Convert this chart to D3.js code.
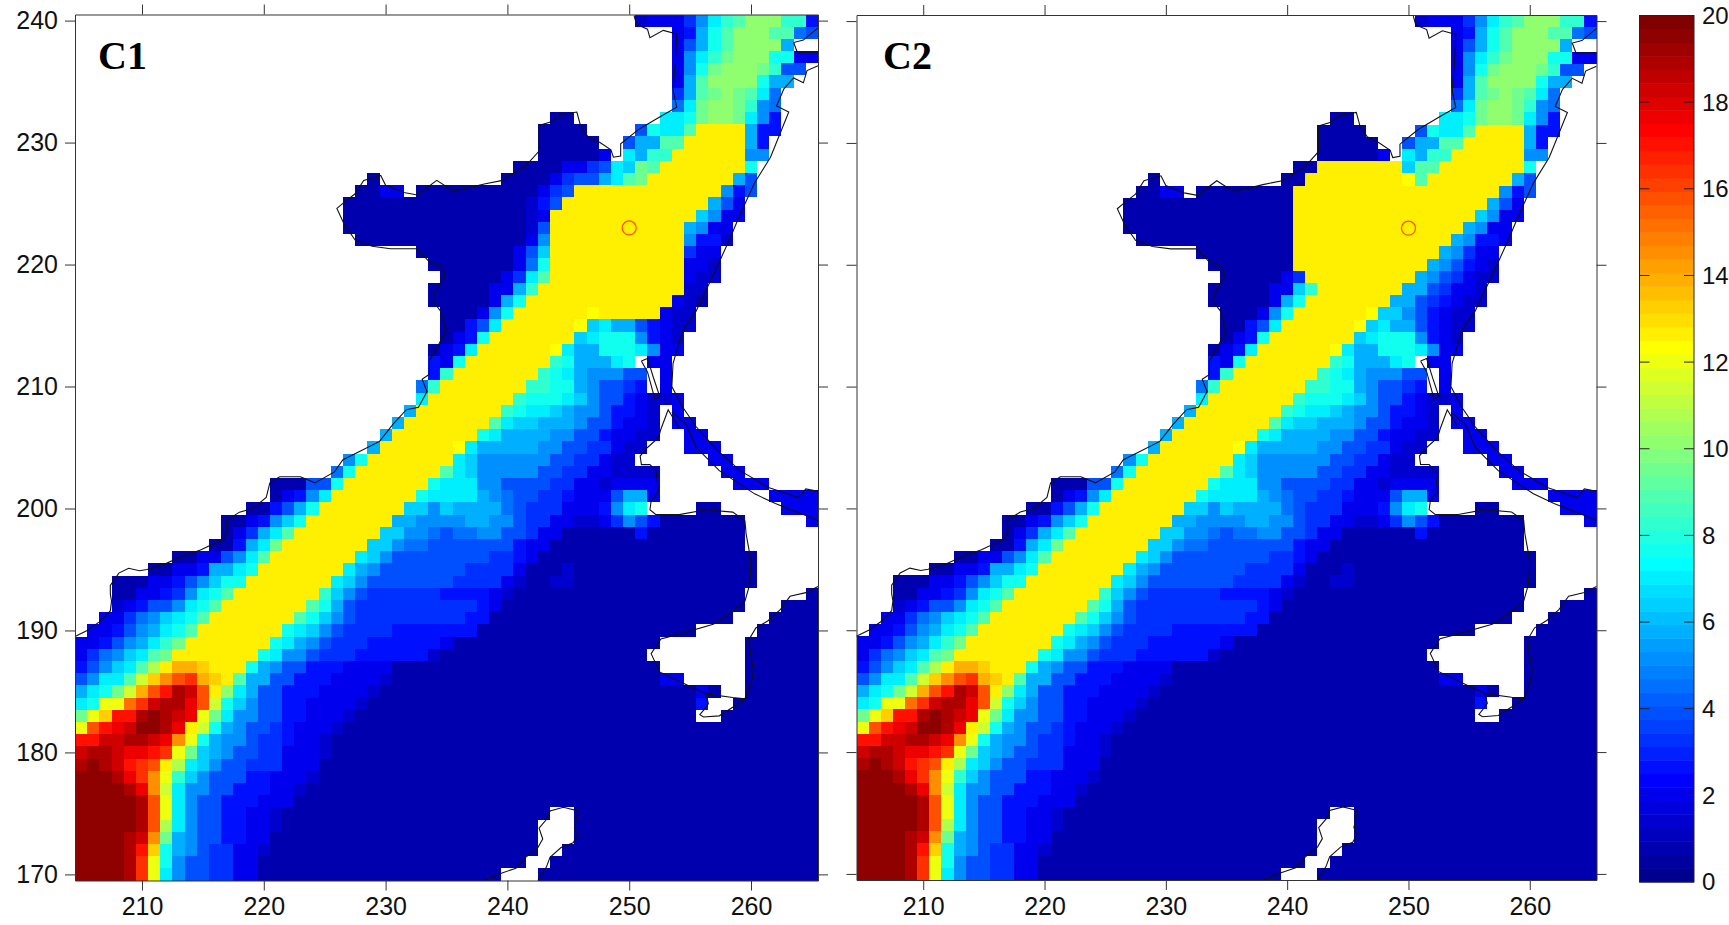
<!DOCTYPE html>
<html>
<head>
<meta charset="utf-8">
<script src="https://cdn.jsdelivr.net/npm/d3@7"></script>
<style>
    body { margin: 0; background: white; }
    text { font-family: "Liberation Sans", Arial, sans-serif; fill: #111; }
    .axis path, .axis line { stroke: #333; stroke-width: 1; }
    .axis text { font-size: 25px; font-family: "Liberation Sans", Arial, sans-serif; fill: #111; }
    .coast { fill: none; stroke: #111; stroke-width: 1.1; }
</style>
</head>
<body>
<div id="chart"></div>
<script>
const lonTicks = [210, 220, 230, 240, 250, 260]
const latTicks = [170, 180, 190, 200, 210, 220, 230, 240]
const barTicks = [0, 2, 4, 6, 8, 10, 12, 14, 16, 18, 20]
const panelNames = ["C1", "C2"]
const firstLat = 240
const firstLon = 205
const lastLon = 265
const stationLon = 250
const stationLat = 223

// each letter stands for one value
const codeLetters = "abcdefghijklmnopqrstuvwxyzABCDET"
const codeValues = [0.8, 1.4, 2.0, 2.7, 3.3, 3.9, 4.5, 5.2, 5.8, 6.4, 7.0, 7.7, 8.3, 8.9, 9.5, 10.2,
    10.8, 11.4, 12.0, 12.7, 13.3, 13.9, 14.5, 15.2, 15.8, 16.4, 17.0, 17.7, 18.3, 18.9, 19.5, 12.4]

// rows run from lat 240 down to lat 170. letter + number = that value up to and including that lon, "." = land
const c1Rows = [
    ".250b251c254e255h256k257m258n259p262m264d265",
    ".253c254d255i256l257n258p261n263g264f265",
    ".253c254f255i256l257n258p262i263",
    ".253c254h255k256m257o258p261l263c265",
    ".253c254h255l256o257p260o261m262f264",
    ".253c254i255n256p260l261i263",
    ".253e254i255n256o257p258o259n260k261g262",
    ".253g254k255o256p258o259m260h261g262",
    ".243a245.252k254l255o256p258o259k260h261d262",
    ".242a246.250f251l252k254n255t259i260d262",
    ".242a247.249f250i252n254t259i260d261",
    ".242a247c248.249k250i251m253t259h261",
    ".240a244c246e247f248k249j250o251n252t259l260",
    ".228a229.239a243c244e245f247i248k249n250o251t258i259f260",
    ".227a229c231.232a242c243e244f245t257h258d259f260",
    ".226a241b242d243f244t256i257f258c259",
    ".226a241b242c243t255j256h257c259",
    ".226a241b242f243t254i255h256c258",
    ".227a241c242h243t254h255d257b258",
    ".232a240c241f242j243t254e255c257",
    ".233a240c241g242l243t254c256b257",
    ".234a239c240e241k242n243t254c255b257",
    ".233a238c240i241m242t254b256",
    ".233a238c239i240l241t253c254b255a256",
    ".234a237c238h239l240t246T247t252c253b255",
    ".234a236d237f238k239t245T246j247k248i250f251d252c253b255",
    ".234a235c236d237l238t245j246k247l250h251d252c253b254",
    ".233a234c235d236k237t243T244k245i247l250k251h252c254",
    ".233d234c235l236t243m244l245i248k249l250.251c253",
    ".233d234m235t242m243l244k245i246h249f251.252c253",
    ".232g233m234t241m243l245i246h247f249e250d251.252c253",
    ".232k233t240m241l244k245j246h247f249d250c251b253c254",
    ".231i232t239m240l241k243j244i245h247f248d250c251b252.253c254",
    ".230i231t238n239k240j242i245h246f248d249c251b252.253c255",
    ".229i230t237l238k239i243h245f247d248c250b252.254c256",
    ".228i229t235T236k237i242h244f246e248c249b251.254c257",
    ".226h227l228t235k236j237h243f245e247c248b250.256c258",
    ".225g226l227t234n235k236j237h242f244e246c248b252.257c259",
    ".220a223f225l226t233l234k237h239f243e245c247b248c252.258c261",
    ".220a221c222d223h224k225t232l233k237i238h239g240f242e244d245c248f249i251c252.261c265",
    ".218a220d221f222i223l224t231j233h234j235i239g240f241e244c247d248h249k250l251.255a257.262c265",
    ".216a218c219d220h221j222l223t230i232h236i238h240f241e243c245b247c248e249h250f251d252a259.264c265",
    ".216a217c218e219i220k221n222t229j231h233g234f235g237h239f241e242c244a250d251a259",
    ".215a217d218i219k220o221t228j230h231g233f240d241c243a259",
    ".212a214c216f217h218k219n220t227k228j229h230f238e240d241c242a260",
    ".210a212c214d215i217k218l219t226k227i228h229f236e240c241a244b245a260",
    ".207a210c212d213f214h215j216l218t225k226j227h228f235e239c240b241a243b245a260",
    ".207a209c211d212e213h214k215l216n217t224m225j226h227f228e234d238c239b240a259.264a265",
    ".207b208c209d210f212h213k214l215n216t223n224l225i226f227e237d238c239a259.262a265",
    ".206c208e209g210h211j212k213l214n215t222n223l224j225h226f227e236d238a258.261a265",
    ".205c207d208f209h210i211k212l213n214t221l222k223j224h225f226e230d237a255.260a265",
    "c206d207f208h209i210k211m212o213t220l221k222i223h224f225e228d234c235a252.259a265",
    "c205e206g207h208j209k210n211o212t219l220k221h223f224e227d233b234a251.259a265",
    "d205f206h207j208k209n210q211t212v214u215t218l219i220h221f223d226c230a252.259a265",
    "f205h206k208n209r210u211w212y213z214v215u216t217n218i220f222d225c229b230a252c254.259a265",
    "i205k206l207o208r209v210y211A212D213C214y215t216p217k218i219f221d224c228b229a255c256a257.259a265",
    "k205l206s208x209z210C211D213B214y215r216l217j218h219f221d223c227b228a255d256.258a265",
    "o205s206u207A209D210E211D212C213B214s215o216k217h219f221d223c226b227a255.257a265",
    "s205y206A207B208C209E211D212B213t214r215l216i217h218f220e221d222c225b226a265",
    "A206C208D210C211B212w213s214l215i216h218f219e221d222c224b225a265",
    "C205D207C208B210A211z212s213o214j215i216h217f219e221c224b225a265",
    "D205E206D207C208A209z210y211t212q213k214j215h216f218e221c224a265",
    "E207D208B209z210w211s212m213j214h215f218d220c223b224a265",
    "E208D209B210w211r212k213h215f217d220c222b223a265",
    "E209D210y211s212k213h214f216d219c222a265",
    "E209D210y211s212k213h214f216d218c220b221a243.245a265",
    "E209D210y211q212k213h214f216d218c220b221a242.245a265",
    "E208D209C210w211o212i213h214f216d218c220a242.245a265",
    "E208D209A210u211l212i213h214f215e217c219b220a242.244a265",
    "E208D209z210s211l212h213f215e217c219a241.243a265",
    "E208D209z210s211k212h213f215e217c219a239.242a265"
]

// C2 is the same field except for these rows around the source box
const c2ChangedLats = [228, 227, 226, 225, 224, 223, 222, 221, 220, 219, 218, 217, 216]
const c2ChangedRows = [
    ".240a242t249j250n252t259l260",
    ".228a229.239a241t249T250n251t258i259f260",
    ".227a229c231.232a240t257h258d259f260",
    ".226a240t256i257f258c259",
    ".226a240t255j256h257c259",
    ".226a240t254i255h256c258",
    ".227a240t253i254h255d257c258",
    ".232a240t252i253h254e255c257",
    ".233a240t251i252h253f254d255c256b257",
    ".234a239c240e241t250i251h252f253e254c255b257",
    ".233a238c240j241m242t249i251f252e253c255b256",
    ".233a238c239i240l241t248i250f251e252d253c254b256",
    ".234a237c238h239l240t246T247j249h250f251d252c253b255"
]

// coastlines, lon/lat
const coastNorth = [[204.5,189.5],[205.5,190],[206.5,190.7],[207.4,191.6],[207.5,192.4],[207.4,193],[207.4,193.7],[208.1,194.7],[208.9,195.1],[209.8,194.9],[210.4,195],[212,195.5],[213.1,196],[214.8,196.6],[216.7,197.5],[217,198.2],[216.9,199],[218,199.7],[219.1,200],[220.2,200.9],[220.5,202.1],[221.3,202.6],[223,202.6],[224.2,202.1],[225.8,203],[226.5,204],[227.9,204.7],[229.5,205.5],[230.6,206.9],[231.7,208.1],[232.7,208.3],[233.4,209.6],[233,210.6],[233.6,211],[233.6,212.1],[234.5,213.7],[235,214.6],[234.5,216.2],[233.9,217],[234,217.6],[234.5,218.5],[234.9,219.1],[234.5,219.9],[233.6,220.2],[232.6,221.3],[230.4,221.3],[228.9,221.5],[227.5,222],[226.6,223.3],[226,224.6],[226.6,225.1],[227.5,225.8],[228.2,226.9],[229.6,227.3],[230,226.5],[231.5,225.9],[232.6,225.7],[234.2,226.9],[235.6,226],[238.1,226.6],[239.6,226.9],[241.6,228.2],[242.6,229.3],[242.6,231.4],[243.6,231.7],[244.4,232.3],[245.7,232.5],[246,231.4],[246.6,230.5],[247.6,230],[248.5,229.4],[248.7,228.8],[249.3,228.9],[249.3,229.9],[250.8,231.1],[252.5,232.1],[253.9,232.9],[253.6,234.3],[253.8,236.7],[253.9,238.9],[252.8,239.2],[251.7,238.6],[251.5,239.3],[250.6,239.7],[250.4,240.4]]
const coastEast = [[265.5,236.3],[264.6,235.9],[264.3,234.9],[263.5,235.3],[262.7,234.4],[262.1,233],[263.1,232.5],[261.6,228.8],[260.3,226.7],[259.1,224.1],[258.3,222.2],[257.3,220],[256.4,218.1],[255.5,216.2],[254.4,214.6],[253.6,211.9],[253.5,210],[254.4,208.3],[255.5,206.7],[257.2,204.8],[259.1,203.1],[261.5,201.7],[263.9,200.9],[264.5,201.6],[265.5,201.4]]
const coastBay = [[265.5,239.4],[264.3,238.4],[263.5,238.2],[263.8,237.4],[265.5,237.4]]
const coastInner = [[253.5,207.9],[254.7,206.9],[255.5,205],[257.4,203.1],[260.3,201.2],[262,200.4],[264.3,199.5],[265.5,199]]
const coastIsland = [[251,212.1],[251.5,212.3],[252,210.7],[252.5,209.2],[252.1,209],[251.5,211.2],[251,212.1]]
const coastSouth = [[254.1,206.6],[253.2,208.1],[252.6,206.5],[252.4,205.8],[251.5,205],[250.9,204.3],[251,203.6],[251.7,203.6],[252.2,203.1],[252.4,201.4],[251.8,200.6],[251.7,199.9],[252.2,199.5],[254.1,199.5],[256.3,199.9],[258.5,199.7],[259.5,199],[259.6,197.9],[260,195.7],[259.9,193.8],[259.5,192.4],[258.5,191.5],[256.9,190.5],[254.1,189.7],[252.6,189.3],[251.8,188.1],[252.5,186.6],[254.4,185.7],[256.3,184.8],[258.5,184.5],[259.5,184.4],[260,185.6],[260.2,186.7],[259.8,189.2],[260.4,190.2],[261.4,190.8],[262.4,191.7],[263.2,192.8],[264.5,193.1],[265.5,193.6]]
const coastLobe = [[256.3,184.8],[256.5,184],[256.3,183.7],[255.8,183.1],[256.1,182.9],[257.4,183],[258.5,183.7],[259.5,184.4]]
const coastIslandBottom = [[238,169.5],[239.5,170.1],[240.7,170.5],[241.5,171.4],[242.5,172.2],[242.9,172.9],[242.6,173.8],[243.2,174.5],[243.5,175.2],[244.6,175.5],[245.8,175.2],[245.5,173.8],[245.8,173.3],[245.4,172.6],[244.4,172.2],[243.5,171.4],[243.2,170.6],[242.5,169.5]]
const coastLines = [coastNorth, coastEast, coastBay, coastInner, coastIsland, coastSouth, coastLobe, coastIslandBottom]

// panel boxes in pixels
const panelBoxes = [
    {left: 75, right: 818, top: 14.5, bottom: 880.5, labelX: 98},
    {left: 856.5, right: 1596.5, top: 15, bottom: 880, labelX: 883}
]

const jetColors = d3.range(64).map(i => {
    const t = (i + 1) / 64
    const part = c => Math.round(255 * Math.max(0, Math.min(1, 1.5 - Math.abs(4 * t - c))))
    return `rgb(${part(3)},${part(2)},${part(1)})`
})
const color = d3.scaleQuantize().domain([0, 20]).range(jetColors)

const svg = d3.select("#chart").append("svg")
    .attr("width", 1729)
    .attr("height", 925)

function decodeRow(row) {
    const cells = []
    let lon = firstLon
    for (const [, letter, end] of row.matchAll(/([.a-zA-Z])(\d{3})/g)) {
        for (; lon <= +end; lon++) {
            cells.push({lon: lon, value: letter === "." ? null : codeValues[codeLetters.indexOf(letter)]})
        }
    }
    for (; lon <= lastLon; lon++) cells.push({lon: lon, value: null})
    return cells
}

function panelCells(panelIndex) {
    const cells = []
    c1Rows.forEach((row, i) => {
        const lat = firstLat - i
        const changed = c2ChangedLats.indexOf(lat)
        const useRow = panelIndex === 1 && changed >= 0 ? c2ChangedRows[changed] : row
        decodeRow(useRow).forEach(c => {
            if (c.value !== null) cells.push({lon: c.lon, lat: lat, value: c.value})
        })
    })
    return cells
}

function drawPanel(panelIndex) {
    const box = panelBoxes[panelIndex]
    const x = d3.scaleLinear().domain([204.5, 265.5]).range([box.left, box.right])
    const y = d3.scaleLinear().domain([169.5, 240.5]).range([box.bottom, box.top])
    const g = svg.append("g")

    g.append("g").selectAll("rect")
        .data(panelCells(panelIndex))
        .join("rect")
        .attr("x", d => x(d.lon - 0.5))
        .attr("y", d => y(d.lat + 0.5))
        .attr("width", x(1) - x(0))
        .attr("height", y(0) - y(1))
        .attr("fill", d => color(d.value))
        .attr("shape-rendering", "crispEdges")

    const line = d3.line().x(d => x(d[0])).y(d => y(d[1]))
    g.append("g").selectAll("path")
        .data(coastLines)
        .join("path")
        .attr("class", "coast")
        .attr("d", line)

    g.append("circle")
        .attr("cx", x(stationLon))
        .attr("cy", y(stationLat))
        .attr("r", 7)
        .attr("fill", "none")
        .attr("stroke", "#ff4d00")
        .attr("stroke-width", 1.2)

    const bottomAxis = d3.axisBottom(x).tickValues(lonTicks).tickSize(10).tickPadding(7).tickSizeOuter(0)
    const topAxis = d3.axisTop(x).tickValues(lonTicks).tickSize(10).tickFormat("").tickSizeOuter(0)
    const leftAxis = d3.axisLeft(y).tickValues(latTicks).tickSize(10).tickPadding(7).tickSizeOuter(0)
    const rightAxis = d3.axisRight(y).tickValues(latTicks).tickSize(10).tickFormat("").tickSizeOuter(0)
    if (panelIndex === 1) leftAxis.tickFormat("")

    g.append("g").attr("class", "axis").attr("transform", `translate(0,${box.bottom})`).call(bottomAxis)
    g.append("g").attr("class", "axis").attr("transform", `translate(0,${box.top})`).call(topAxis)
    g.append("g").attr("class", "axis").attr("transform", `translate(${box.left},0)`).call(leftAxis)
    g.append("g").attr("class", "axis").attr("transform", `translate(${box.right},0)`).call(rightAxis)

    g.append("text")
        .attr("x", box.labelX)
        .attr("y", 69)
        .style("font-family", '"Liberation Serif", "Times New Roman", serif')
        .style("font-weight", "bold")
        .style("font-size", "40px")
        .style("fill", "#000")
        .text(panelNames[panelIndex])
}

function drawColorbar() {
    const left = 1639.5, right = 1694, top = 15.5, bottom = 882
    const y = d3.scaleLinear().domain([0, 20]).range([bottom, top])
    const step = 20 / 64
    const g = svg.append("g")

    g.selectAll("rect.step")
        .data(jetColors)
        .join("rect")
        .attr("class", "step")
        .attr("x", left)
        .attr("width", right - left)
        .attr("y", (d, i) => y((i + 1) * step))
        .attr("height", y(0) - y(step) + 0.5)
        .attr("fill", d => d)

    g.append("rect")
        .attr("x", left)
        .attr("y", top)
        .attr("width", right - left)
        .attr("height", bottom - top)
        .attr("fill", "none")
        .attr("stroke", "#222")

    barTicks.forEach(t => {
        if (t === 0 || t === 20) return
        g.append("line").attr("x1", left).attr("x2", left + 10).attr("y1", y(t)).attr("y2", y(t)).attr("stroke", "#222")
        g.append("line").attr("x1", right - 10).attr("x2", right).attr("y1", y(t)).attr("y2", y(t)).attr("stroke", "#222")
    })

    g.selectAll("text")
        .data(barTicks)
        .join("text")
        .attr("x", 1702)
        .attr("y", d => y(d))
        .attr("dy", "0.35em")
        .style("font-size", "24px")
        .text(d => d)
}

panelBoxes.forEach((b, i) => drawPanel(i))
drawColorbar()
</script>
</body>
</html>
